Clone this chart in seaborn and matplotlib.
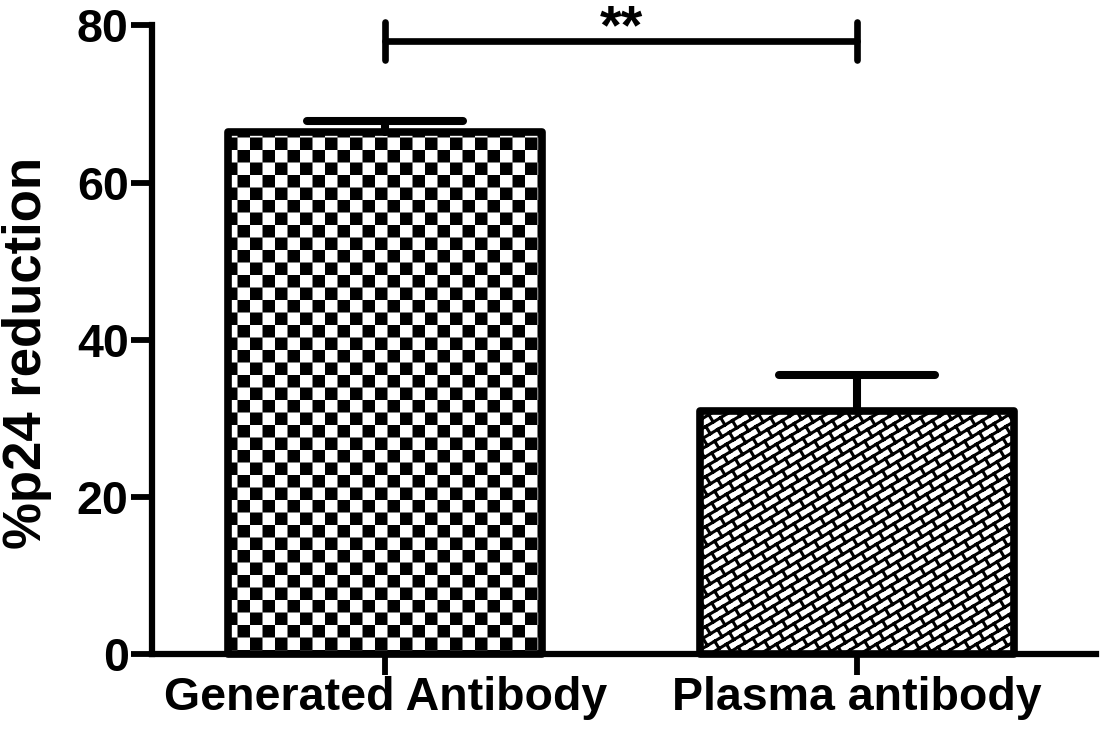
import warnings
warnings.filterwarnings('ignore')

import numpy as np
import pandas as pd
import matplotlib
matplotlib.use('Agg')
import matplotlib.pyplot as plt
import matplotlib.hatch as mhatch
from matplotlib.path import Path
from matplotlib.markers import MarkerStyle
import seaborn as sns

# ---------------- data ----------------
categories = ['Generated Antibody', 'Plasma antibody']
values = [66.5, 30.9]          # % p24 reduction (bar heights)
errors = [1.3, 4.6]            # upper error (SEM)
y_ticks = [0, 20, 40, 60, 80]
sig_label = '**'
sig_y = 78.0
y_label = '%p24 reduction'

# ---------------- style ----------------
sns.set_style('ticks')
plt.rcParams['font.family'] = ['Liberation Sans', 'DejaVu Sans']
plt.rcParams['text.color'] = 'black'
plt.rcParams['axes.labelcolor'] = 'black'
plt.rcParams['xtick.color'] = 'black'
plt.rcParams['ytick.color'] = 'black'
plt.rcParams['hatch.color'] = 'black'
HATCH_LW = 2.2
plt.rcParams['hatch.linewidth'] = HATCH_LW
_half = HATCH_LW / 144.0   # half stroke width in hatch-unit (1 inch) coords


def _checker_pattern():
    n = 8
    s = 1.0 / n
    verts, codes = [], []
    for i in range(n):
        for j in range(n):
            if (i + j) % 2 == 0:
                x0, y0 = i * s + _half, j * s + _half
                x1, y1 = (i + 1) * s - _half, (j + 1) * s - _half
                verts += [(x0, y0), (x1, y0), (x1, y1), (x0, y1), (x0, y0)]
                codes += [Path.MOVETO, Path.LINETO, Path.LINETO,
                          Path.LINETO, Path.CLOSEPOLY]
    return np.array(verts, float), np.array(codes, Path.code_type)


def _brick_pattern():
    # rows along direction (5, 3); running bond, periodic in the unit cell
    def pt(c, u):
        return ((3 * c + 5 * u) / 34.0, (3 * u - 5 * c) / 34.0)
    verts, codes = [], []
    for m in range(-12, 9):
        c = m / 2.0
        verts += [pt(c, -3), pt(c, 11)]
        codes += [Path.MOVETO, Path.LINETO]
        for j in range(-10, 20):
            u = j + 0.5 * m
            verts += [pt(c, u), pt(c + 0.5, u)]
            codes += [Path.MOVETO, Path.LINETO]
    return np.array(verts, float), np.array(codes, Path.code_type)


class _CustomHatch(mhatch.HatchPatternBase):
    CHAR = None
    VERTS = None
    CODES = None

    def __init__(self, hatch, density):
        self.num_vertices = len(self.VERTS) if self.CHAR in hatch else 0

    def set_vertices_and_codes(self, vertices, codes):
        vertices[:] = self.VERTS
        codes[:] = self.CODES


_cv, _cc = _checker_pattern()
_bv, _bc = _brick_pattern()
CheckerHatch = type('CheckerHatch', (_CustomHatch,), dict(CHAR='C', VERTS=_cv, CODES=_cc))
BrickHatch = type('BrickHatch', (_CustomHatch,), dict(CHAR='B', VERTS=_bv, CODES=_bc))
mhatch._hatch_types.append(CheckerHatch)
mhatch._hatch_types.append(BrickHatch)

# ---------------- figure ----------------
fig = plt.figure(figsize=(11.02, 7.3), dpi=100)
ax = fig.add_axes([0.1375, 0.1041, 0.8571, 0.861])

df = pd.DataFrame({'group': categories, 'value': values})
sns.barplot(data=df, x='group', y='value', color='white', saturation=1,
            edgecolor='black', linewidth=5.5, width=0.666, errorbar=None, ax=ax)

for p, h in zip(ax.patches, ['C', 'B']):
    p.set_hatch(h)
    p.set_joinstyle('round')
    p.set_clip_on(False)
    p.set_zorder(2)

xs = np.arange(len(categories))
eb = ax.errorbar(xs, values, yerr=[np.zeros(len(errors)), errors], fmt='none',
                 ecolor='black', elinewidth=5.8, capsize=56, capthick=5.8,
                 zorder=4, clip_on=False)
for cap in eb[1]:
    if np.allclose(cap.get_ydata(), values):
        cap.set_visible(False)
    else:
        cap.set_marker(MarkerStyle('_', capstyle='round'))
        cap.set_clip_on(False)
for ln in eb[2]:
    ln.set_capstyle('round')

# significance bracket
bk = dict(color='black', lw=4.8, solid_capstyle='round', clip_on=False, zorder=5)
ax.plot([xs[0], xs[1]], [sig_y, sig_y], **bk)
ax.plot([xs[0], xs[0]], [sig_y - 2.4, sig_y + 2.4], **bk)
ax.plot([xs[1], xs[1]], [sig_y - 2.4, sig_y + 2.4], **bk)
ax.text((xs[0] + xs[1]) / 2, sig_y - 0.25, sig_label, ha='center', va='baseline',
        fontsize=40, fontweight='bold', color='black', clip_on=False)

# axes
ax.set_ylim(0, 80)
ax.set_yticks(y_ticks)
ax.set_xlim(-0.496, 1.507)
ax.set_xlabel('')
ax.set_ylabel(y_label, fontsize=38, fontweight='bold', color='black')
ax.yaxis.set_label_coords(-0.1055, 0.479)
ax.tick_params(axis='both', direction='out', length=15, width=4.2,
               labelsize=33.5, color='black', labelcolor='black')
ax.tick_params(axis='y', pad=1.5)
ax.tick_params(axis='x', pad=1)
for lab in ax.get_xticklabels() + ax.get_yticklabels():
    lab.set_fontweight('bold')

sns.despine(ax=ax)
for s in ['left', 'bottom']:
    ax.spines[s].set_linewidth(4.5)
    ax.spines[s].set_color('black')

fig.savefig('out.png', dpi=100)
